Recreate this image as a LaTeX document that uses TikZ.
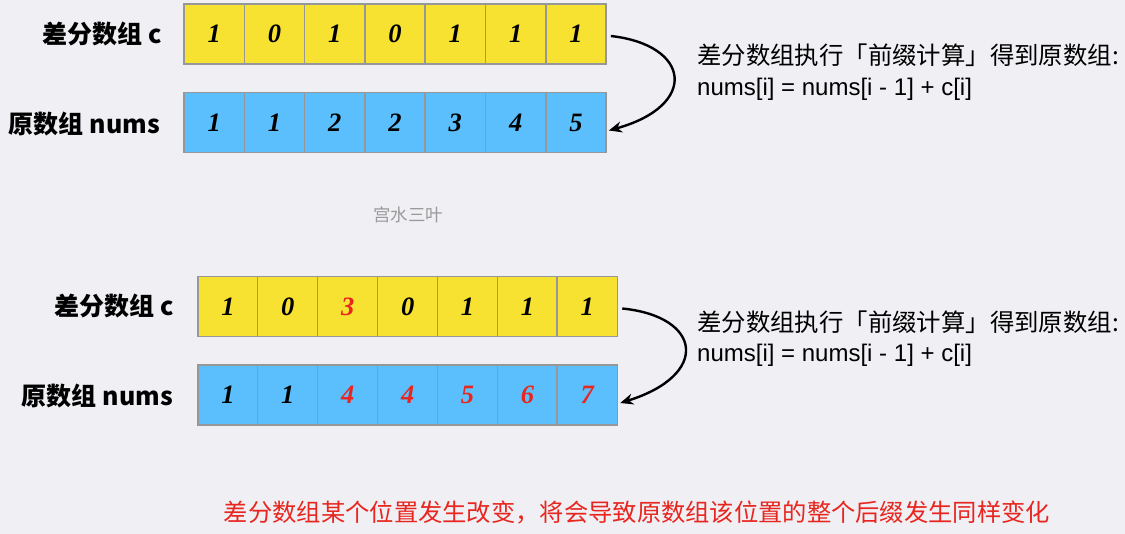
\documentclass[tikz,border=0pt]{standalone}
\usepackage{fontspec}
\setmainfont{Liberation Serif}
\newfontfamily\cjk{Noto Sans CJK SC}
\newfontfamily\lsans{Liberation Sans}
\usetikzlibrary{arrows.meta,calc}
\definecolor{bg}{HTML}{EFEFF4}
\definecolor{cyel}{HTML}{F8E231}
\definecolor{cblue}{HTML}{5BBFFD}
\definecolor{cborder}{HTML}{979797}
\definecolor{cred}{HTML}{E8261F}
\definecolor{wmgray}{HTML}{9A9A9A}
\tikzset{
  cell/.style={draw=cborder, line width=1.5pt, minimum width=60.3pt, minimum height=60pt, inner sep=0pt,
    font=\fontsize{26.5}{26.5}\selectfont\bfseries\itshape},
  ycell/.style={cell, fill=cyel},
  bcell/.style={cell, fill=cblue},
  lab/.style={anchor=east, inner sep=0pt, font=\cjk\bfseries\fontsize{25}{25}\selectfont},
  rtc/.style={anchor=west, inner sep=0pt, font=\cjk\fontsize{24.4}{25}\selectfont},
  rtl/.style={anchor=west, inner sep=0pt, font=\lsans\fontsize{24}{24}\selectfont},
  conn/.style={line width=2.4pt, -{Stealth[length=13pt,width=11pt]}},
}
\begin{document}
\begin{tikzpicture}[x=1pt,y=-1pt]
\fill[bg] (0,0) rectangle (1125,534);
\useasboundingbox (0,0) rectangle (1125,534);
% top
\foreach \v [count=\i] in {1,0,1,0,1,1,1}
  \node[ycell] (tc\i) at ({184+60.3*(\i-0.5)},34) {\v};
\foreach \v [count=\i] in {1,1,2,2,3,4,5}
  \node[bcell] (tn\i) at ({184+60.3*(\i-0.5)},122.5) {\v};
\node[lab] (tlc) at (162,34) {差分数组 c};
\node[lab] (tln) at (160,124) {原数组 nums};
\draw[conn] ($(tc7.east)+(4,2)$) .. controls +(80,9) and +(90,-25) .. ($(tn7.east)+(2,8)$);
\node[rtc] (tr1) at (697,55) {差分数组执行「前缀计算」得到原数组:};
\node[rtl] (tr2) at (697,89) {nums[i] = nums[i - 1] + c[i]};
% watermark
\node[font=\cjk\fontsize{17.5}{17.5}\selectfont, text=wmgray] (wm) at (408,215) {宫水三叶};
% bottom
\foreach \v/\c [count=\i] in {1/black,0/black,3/cred,0/black,1/black,1/black,1/black}
  \node[ycell, text=\c] (bc\i) at ({198+59.9*(\i-0.5)},306.5) {\v};
\foreach \v/\c [count=\i] in {1/black,1/black,4/cred,4/cred,5/cred,6/cred,7/cred}
  \node[bcell, text=\c] (bn\i) at ({198+59.9*(\i-0.5)},395) {\v};
\node[lab] (blc) at (174,306) {差分数组 c};
\node[lab] (bln) at (173,396) {原数组 nums};
\draw[conn] ($(bc7.east)+(4,2)$) .. controls +(80,8) and +(90,-28) .. ($(bn7.east)+(2,8)$);
\node[rtc] (br1) at (697,322) {差分数组执行「前缀计算」得到原数组:};
\node[rtl] (br2) at (697,355) {nums[i] = nums[i - 1] + c[i]};
% note
\node[font=\cjk\fontsize{24.3}{24.3}\selectfont, text=cred] (note) at (637,512) {差分数组某个位置发生改变，将会导致原数组该位置的整个后缀发生同样变化};
\end{tikzpicture}
\end{document}
